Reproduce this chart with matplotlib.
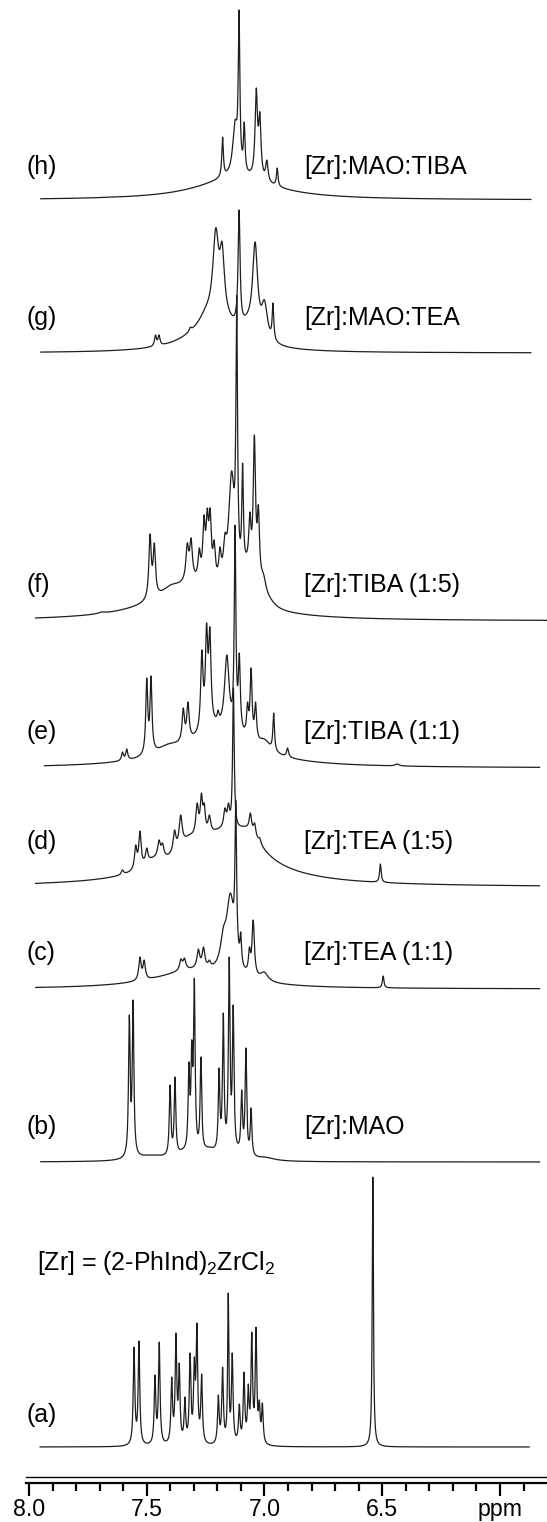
import numpy as np
import matplotlib
matplotlib.use("Agg")
import matplotlib.pyplot as plt

plt.rcParams['font.family'] = ['Liberation Sans', 'DejaVu Sans']
plt.rcParams['mathtext.fontset'] = 'custom'
plt.rcParams['mathtext.rm'] = 'Liberation Sans'

# ---------------- data ----------------
TRACE_IDS = ['a', 'b', 'c', 'd', 'e', 'f', 'g', 'h']
TRACE_LABELS = ['(a)', '(b)', '(c)', '(d)', '(e)', '(f)', '(g)', '(h)']
CONDITIONS = [None, '[Zr]:MAO', '[Zr]:TEA (1:1)', '[Zr]:TEA (1:5)',
              '[Zr]:TIBA (1:1)', '[Zr]:TIBA (1:5)', '[Zr]:MAO:TEA', '[Zr]:MAO:TIBA']
COMPOUND = r'[Zr] = (2-PhInd)$\mathregular{_2}$ZrCl$\mathregular{_2}$'

# ppm range covered by each recorded trace (left, right)
SPAN_PPM = {'a': (7.953, 5.876), 'b': (7.95, 5.832), 'c': (7.972, 5.832),
            'd': (7.972, 5.832), 'e': (7.935, 5.832), 'f': (7.972, 5.80),
            'g': (7.95, 5.869), 'h': (7.95, 5.869)}

# resolved lines: (ppm, apparent height above baseline, half width in ppm)
PEAKS_A = [(7.554, 100, .004), (7.533, 106, .004), (7.465, 72, .004), (7.447, 105, .004),
           (7.394, 70, .004), (7.376, 114, .004), (7.362, 84, .004), (7.338, 50, .004),
           (7.316, 94, .004), (7.298, 90, .004), (7.287, 124, .004), (7.267, 73, .004),
           (7.196, 52, .004), (7.178, 80, .004), (7.154, 154, .003), (7.137, 94, .004),
           (7.107, 43, .004), (7.087, 75, .004), (7.069, 63, .004), (7.054, 115, .004),
           (7.036, 120, .004), (7.022, 47, .004), (7.009, 44, .004), (6.540, 270, .003)]

PEAKS_B = [(7.574, 147, .004), (7.558, 162, .004), (7.48, 7, .08), (7.401, 77, .004),
           (7.380, 85, .004), (7.345, 14, .03), (7.321, 100, .004), (7.309, 122, .004),
           (7.298, 184, .004), (7.270, 105, .004), (7.235, 15, .04), (7.193, 94, .004),
           (7.175, 149, .004), (7.150, 205, .004), (7.133, 157, .004), (7.118, 22, .03),
           (7.097, 72, .004), (7.079, 114, .004), (7.057, 54, .004), (7.0, 5, .05)]

PEAKS_C = [(7.529, 32, .006), (7.511, 29, .006),
           (7.355, 30, .007), (7.340, 31, .007), (7.281, 40, .007),
           (7.259, 42, .007), (7.234, 29, .006), (7.175, 62, .015), (7.145, 96, .02),
           (7.122, 189, .004), (7.101, 57, .004), (7.064, 42, .005), (7.048, 69, .006),
           (7.001, 17, .02), (6.496, 13, .004)]

PEAKS_D = [(7.603, 17, .006), (7.547, 42, .006), (7.529, 56, .006), (7.50, 39, .006),
           (7.475, 30, .05), (7.448, 47, .007), (7.433, 44, .007), (7.382, 57, .007),
           (7.356, 72, .008), (7.322, 52, .04), (7.286, 84, .007), (7.268, 94, .006),
           (7.256, 84, .006), (7.234, 72, .007), (7.194, 59, .04), (7.168, 79, .007),
           (7.153, 84, .006), (7.132, 199, .004), (7.06, 74, .006),
           (7.042, 64, .006), (7.02, 49, .006), (6.508, 23, .004)]

PEAKS_E = [(7.603, 16, .005), (7.585, 19, .005), (7.500, 90, .005), (7.482, 92, .005),
           (7.41, 24, .06), (7.345, 60, .006), (7.325, 66, .006), (7.31, 36, .03),
           (7.266, 118, .006), (7.246, 145, .006), (7.232, 141, .006), (7.212, 53, .03),
           (7.197, 58, .005), (7.16, 113, .012), (7.125, 243, .004), (7.107, 115, .005),
           (7.086, 41, .03), (7.072, 66, .005), (7.057, 100, .005), (7.038, 66, .005),
           (7.0, 29, .03), (6.961, 55, .004), (6.902, 20, .005), (6.437, 4, .01)]

PEAKS_F = [(7.692, 9, .015), (7.486, 87, .006), (7.468, 78, .006),
           (7.40, 36, .04), (7.328, 78, .007), (7.312, 83, .007), (7.277, 73, .006),
           (7.257, 106, .006), (7.243, 113, .006), (7.231, 113, .006), (7.214, 81, .006),
           (7.189, 74, .006), (7.168, 88, .008), (7.14, 150, .015), (7.118, 326, .004),
           (7.093, 158, .004), (7.076, 69, .03), (7.062, 109, .006), (7.043, 186, .006),
           (7.026, 116, .006), (7.005, 48, .015), (6.977, 24, .03)]

PEAKS_G = [(7.463, 18, .005), (7.448, 18, .005), (7.315, 26, .006),
           (7.30, 26, .006), (7.278, 21, .006), (7.25, 53, .03), (7.207, 125, .015),
           (7.18, 111, .012), (7.153, 46, .03), (7.108, 143, .005), (7.072, 41, .03),
           (7.04, 111, .013), (7.0, 53, .015), (6.964, 50, .004)]

PEAKS_H = [(7.65, 3, .03), (7.178, 63, .004),
           (7.125, 80, .012), (7.108, 190, .004), (7.086, 78, .004), (7.035, 112, .006),
           (7.02, 88, .006), (6.99, 40, .006), (6.946, 32, .004)]

# broad underlying envelopes: (ppm, amplitude, half width in ppm)
ENV_A = []
ENV_B = []
ENV_C = [(7.30, 18, .2)]
ENV_D = [(7.194, 45, .22), (7.07, 22, .07)]
ENV_E = [(7.20, 30, .2)]
ENV_F = [(7.30, 35, .2)]
ENV_G = [(7.22, 30, .12)]
ENV_H = [(7.12, 22, .2)]

PEAKS = {'a': PEAKS_A, 'b': PEAKS_B, 'c': PEAKS_C, 'd': PEAKS_D,
         'e': PEAKS_E, 'f': PEAKS_F, 'g': PEAKS_G, 'h': PEAKS_H}
ENVELOPES = {'a': ENV_A, 'b': ENV_B, 'c': ENV_C, 'd': ENV_D,
             'e': ENV_E, 'f': ENV_F, 'g': ENV_G, 'h': ENV_H}

AXIS_MAJOR = [8.0, 7.5, 7.0, 6.5, 6.0]
AXIS_MAJOR_LABELS = ['8.0', '7.5', '7.0', '6.5', 'ppm']
AXIS_MINOR = [7.9, 7.8, 7.7, 7.6, 7.4, 7.3, 7.2, 7.1, 6.9, 6.8, 6.7, 6.6,
              6.4, 6.3, 6.2, 6.1, 5.9]

# ---------------- layout (pixels from top of image) ----------------
W, H, DPI = 547, 1522, 100
PX_AT_8 = 29.0
PX_PER_PPM = 235.5
XL = 8.0 + PX_AT_8 / PX_PER_PPM
XR = 8.0 - (W - PX_AT_8) / PX_PER_PPM
BASELINE_PX = {'a': 1447, 'b': 1162, 'c': 989, 'd': 887, 'e': 768, 'f': 621, 'g': 353, 'h': 200}
LABEL_Y_PX = {'a': 1415, 'b': 1127, 'c': 953, 'd': 842, 'e': 732, 'f': 585, 'g': 318, 'h': 167}
LABEL_X_PPM = 8.0 - (27 - PX_AT_8) / PX_PER_PPM
COND_X_PPM = 8.0 - (304 - PX_AT_8) / PX_PER_PPM
COMPOUND_POS = (8.0 - (37 - PX_AT_8) / PX_PER_PPM, 1263)
AXIS_TOP_PX, AXIS_BOT_PX = 1476.7, 1483.3
FS = 17.9
LINE_COLOR = '#1e1e1e'


def lorentz(x, c, hw):
    return 1.0 / (1.0 + ((x - c) / hw) ** 2)


def envelope(x, env):
    out = np.zeros_like(x, dtype=float)
    for c, a, hw in env:
        out += a * lorentz(x, c, hw)
    return out


def spectrum(x, peaks, env):
    pos = np.array([p[0] for p in peaks])
    hw = np.array([p[2] for p in peaks])
    tgt = np.array([p[1] for p in peaks], float) - envelope(pos, env)
    A = lorentz(pos[:, None], pos[None, :], hw[None, :])
    active = np.ones(len(pos), bool)
    amp = np.zeros(len(pos))
    for _ in range(20):
        amp[:] = 0
        sol, *_ = np.linalg.lstsq(A[:, active], tgt, rcond=None)
        amp[active] = sol
        if (sol >= 0).all():
            break
        idx = np.where(active)[0]
        active[idx[sol < 0]] = False
    lines = (amp[None, :] * lorentz(x[:, None], pos[None, :], hw[None, :])).sum(axis=1)
    return lines + envelope(x, env)


fig = plt.figure(figsize=(W / DPI, H / DPI), dpi=DPI)
ax = fig.add_axes([0, 0, 1, 1])
ax.set_xlim(XL, XR)
ax.set_ylim(0, H)
ax.axis('off')

for tid, lab, cond in zip(TRACE_IDS, TRACE_LABELS, CONDITIONS):
    x0, x1 = SPAN_PPM[tid]
    x = np.linspace(x0, x1, 6000)
    y = spectrum(x, PEAKS[tid], ENVELOPES[tid])
    ax.plot(x, (H - BASELINE_PX[tid]) + y, color=LINE_COLOR, lw=0.9)
    ax.text(LABEL_X_PPM, H - LABEL_Y_PX[tid], lab, fontsize=FS, ha='left', va='center')
    if cond:
        ax.text(COND_X_PPM, H - LABEL_Y_PX[tid], cond, fontsize=FS, ha='left', va='center')

ax.text(COMPOUND_POS[0], H - COMPOUND_POS[1], COMPOUND, fontsize=FS, ha='left', va='center')

# ppm axis (double rule with ticks)
ax2 = fig.add_axes([0, (H - AXIS_BOT_PX) / H, 1, (AXIS_BOT_PX - AXIS_TOP_PX) / H])
ax2.set_xlim(XL, XR)
ax2.patch.set_visible(False)
for s in ['left', 'right']:
    ax2.spines[s].set_visible(False)
ax2.spines['top'].set_linewidth(1.0)
ax2.spines['bottom'].set_linewidth(1.6)
ax2.spines['top'].set_bounds(8.012, XR)
ax2.spines['bottom'].set_bounds(8.012, XR)
ax2.set_yticks([])
ax2.set_xticks(AXIS_MAJOR)
ax2.set_xticklabels(AXIS_MAJOR_LABELS)
ax2.set_xticks(AXIS_MINOR, minor=True)
ax2.tick_params(axis='x', which='major', direction='out', length=9.5, width=1.6,
                labelsize=16.7, pad=1.0, colors='black')
ax2.tick_params(axis='x', which='minor', direction='out', length=6, width=1.6)

fig.savefig('out.png', dpi=DPI)
